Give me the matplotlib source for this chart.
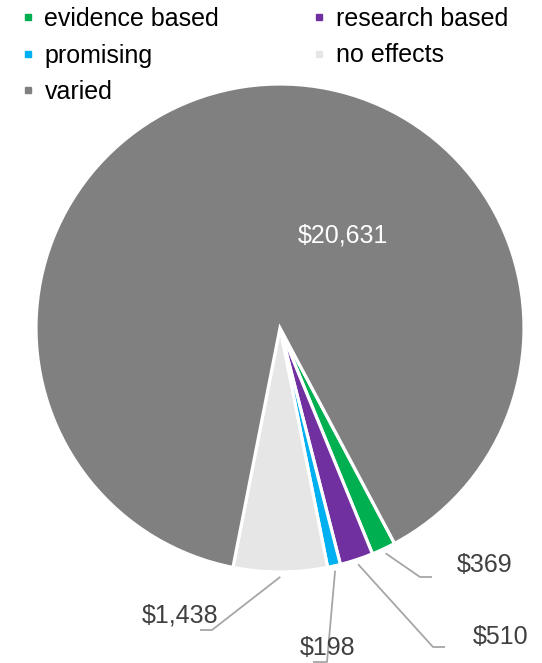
import numpy as np
import matplotlib
matplotlib.use("Agg")
import matplotlib.pyplot as plt
from matplotlib.lines import Line2D

plt.rcParams['font.family'] = ['Liberation Sans', 'DejaVu Sans']

categories = ["evidence based", "research based", "promising", "no effects", "varied"]
values = [369, 510, 198, 1438, 20631]
value_labels = ["$369", "$510", "$198", "$1,438", "$20,631"]
colors = ["#00B050", "#7030A0", "#00B0F0", "#E6E6E6", "#808080"]

W, H = 542, 663
fig = plt.figure(figsize=(W / 100, H / 100), dpi=100)
ax = fig.add_axes([0, 0, 1, 1])
R = 244.0
cx, cy = 280.0, 328.0

wedges, _ = ax.pie(values, colors=colors, startangle=-62, counterclock=False,
                   radius=1.0, center=(0, 0), frame=True,
                   wedgeprops=dict(edgecolor='white', linewidth=2.3))
ax.set_xlim(-cx / R, (W - cx) / R)
ax.set_ylim(-(H - cy) / R, cy / R)
ax.axis('off')

def px(x, y):
    return ((x - cx) / R, (cy - y) / R)

# leader elbows / ends and text positions (layout, in pixels)
layout = {
    0: dict(elbow=(420, 577), end=(432, 577), text=(457, 565), ha='left'),
    1: dict(elbow=(433, 647), end=(445, 647), text=(473, 637), ha='left'),
    2: dict(elbow=(327, 662), end=(313, 662), text=(300, 648), ha='left'),
    3: dict(elbow=(212, 630), end=(200, 630), text=(218, 615), ha='right'),
}
lc = "#A6A6A6"
for i, w in enumerate(wedges):
    mid = np.deg2rad((w.theta1 + w.theta2) / 2)
    if i in layout:
        L = layout[i]
        sx, sy = 1.02 * np.cos(mid), 1.02 * np.sin(mid)
        ex, ey = px(*L['elbow'])
        fx, fy = px(*L['end'])
        ax.plot([sx, ex, fx], [sy, ey, fy], color=lc, lw=1.3, solid_capstyle='butt', zorder=3)
        tx, ty = px(*L['text'])
        ax.text(tx, ty, value_labels[i], ha=L['ha'], va='center', fontsize=18, color="#404040", zorder=4)
    else:
        tx, ty = px(343, 236)
        ax.text(tx, ty, value_labels[i], ha='center', va='center', fontsize=18, color="white", zorder=4)

handles = [Line2D([], [], marker='s', linestyle='none', markersize=4.5,
                  markerfacecolor=c, markeredgecolor=c) for c in colors]
order = [0, 2, 4, 1, 3]
leg = fig.legend([handles[i] for i in order], [categories[i] for i in order],
                 ncol=2, loc='upper left', bbox_to_anchor=(22 / W, 1 - 7 / H),
                 frameon=False, fontsize=18, handlelength=0.45, handletextpad=0.45,
                 columnspacing=3.75, labelspacing=0.5, borderaxespad=0, borderpad=0)
for t in leg.get_texts():
    t.set_color("#000000")

fig.savefig("out.png", dpi=100)
